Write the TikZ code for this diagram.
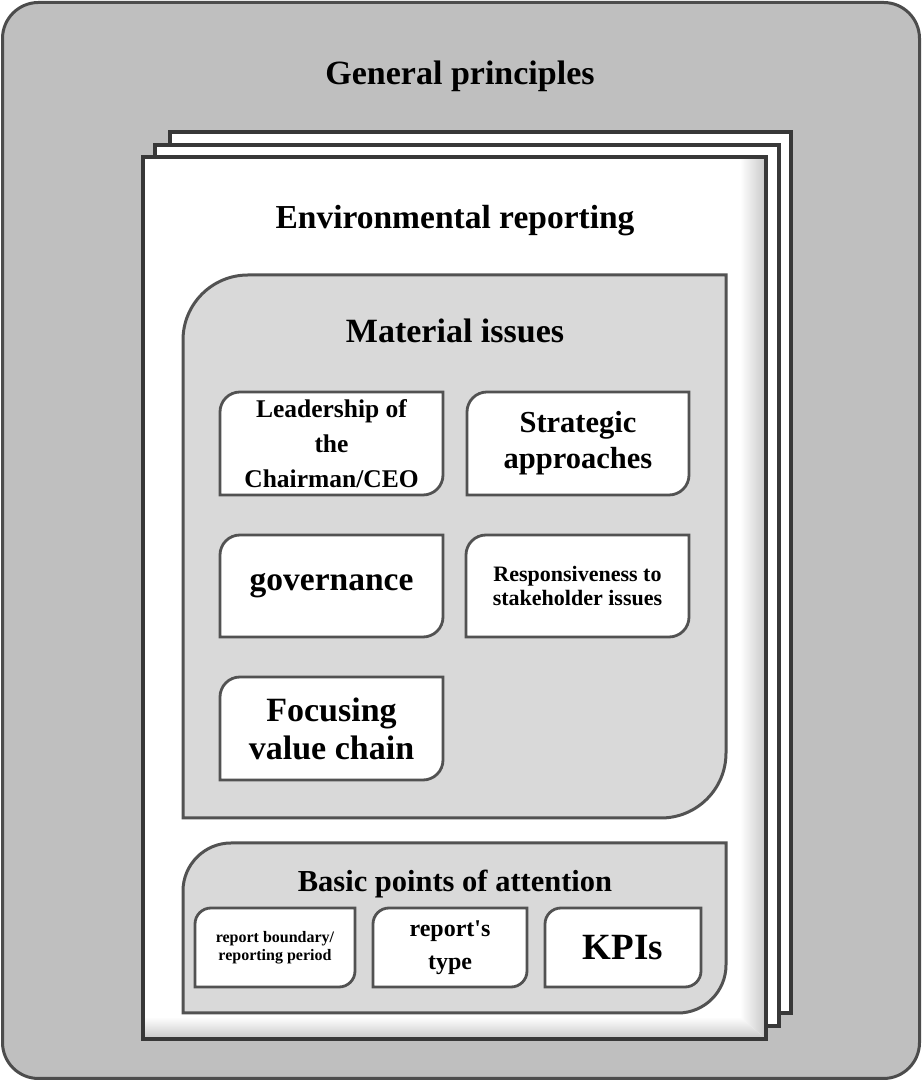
\documentclass[tikz,border=0pt]{standalone}
\usepackage{fontspec}
\setmainfont{Liberation Serif}
\newcommand\leafpath[3]{% style, node, corner radius
  \draw[#1] (#2.south west) -- ([yshift=-#3]#2.north west)
    arc[start angle=180,end angle=90,radius=#3] -- (#2.north east)
    -- ([yshift=#3]#2.south east)
    arc[start angle=0,end angle=-90,radius=#3] -- cycle;}
\newcommand\fsz[2]{\bfseries\fontsize{#1}{#2}\selectfont}
\begin{document}
\begin{tikzpicture}[x=1pt,y=1pt,
  frame/.style={draw=black!70, line width=3pt},
  sheet/.style={draw=black!78, line width=3.5pt, fill=white},
  panel/.style={draw=black!68, line width=3pt, fill=black!15},
  tile/.style={draw=black!68, line width=2.8pt, fill=white},
  holder/.style={inner sep=0pt, outer sep=0pt},
  lbl/.style={align=center, inner sep=0pt},
]
\useasboundingbox (0,0) rectangle (922,1081);

% outer frame
\draw[frame, fill=black!25, rounded corners=36pt] (2.5,2.5) rectangle (919.5,1078.5);
\node[lbl, font=\fsz{34}{38}] (general) at (460,1005) {General principles};

% stack of sheets
\draw[sheet] (170,68) rectangle (791,949);
\draw[sheet] (155,55) rectangle (779,936);
\draw[sheet] (143,42) rectangle (766,924);
% soft bevel along the right and bottom edges of the front sheet
\begin{scope}
  \clip (740,64) -- (740,924) -- (766,924) -- (766,42) -- cycle;
  \shade[left color=white, right color=black!22] (740,42) rectangle (766,924);
\end{scope}
\begin{scope}
  \clip (143,42) -- (766,42) -- (740,64) -- (143,64) -- cycle;
  \shade[top color=white, bottom color=black!22] (143,42) rectangle (766,64);
\end{scope}
\draw[sheet, fill=none] (143,42) rectangle (766,924);
\node[lbl, font=\fsz{33.5}{38}] (envrep) at (455,860) {Environmental reporting};

% material issues panel
\node[holder, minimum width=543pt, minimum height=543pt] (matbox) at (454.5,534.5) {};
\leafpath{panel}{matbox}{65pt}
\node[lbl, font=\fsz{34}{38}] (mattitle) at (455,750) {Material issues};

\node[holder, minimum width=223pt, minimum height=103pt] (lead) at (331.5,637.5) {};
\leafpath{tile}{lead}{20pt}
\node[lbl, font=\fsz{25.5}{35}] (leadtxt) at (lead) {Leadership of\\the\\Chairman/CEO};

\node[holder, minimum width=222pt, minimum height=103pt] (strat) at (578,637.5) {};
\leafpath{tile}{strat}{20pt}
\node[lbl, font=\fsz{30.5}{36}] (strattxt) at (strat) {Strategic\\approaches};

\node[holder, minimum width=223pt, minimum height=102pt] (gov) at (331.5,495) {};
\leafpath{tile}{gov}{20pt}
\node[lbl, font=\fsz{33.5}{38}] (govtxt) at (gov) {governance};

\node[holder, minimum width=223pt, minimum height=102pt] (resp) at (577.5,495) {};
\leafpath{tile}{resp}{20pt}
\node[lbl, font=\fsz{22}{24}] (resptxt) at (resp) {Responsiveness to\\stakeholder issues};

\node[holder, minimum width=223pt, minimum height=103pt] (focus) at (331.5,352.5) {};
\leafpath{tile}{focus}{20pt}
\node[lbl, font=\fsz{34}{38}] (focustxt) at (focus) {Focusing\\value chain};

% basic points panel
\node[holder, minimum width=543pt, minimum height=170pt] (basic) at (454.5,153) {};
\leafpath{panel}{basic}{48pt}
\node[lbl, font=\fsz{30.5}{34}] (basictitle) at (455,197) {Basic points of attention};

\node[holder, minimum width=160pt, minimum height=79pt] (bound) at (275,133.5) {};
\leafpath{tile}{bound}{16pt}
\node[lbl, font=\fsz{16}{18}] (boundtxt) at (bound) {report boundary/\\reporting period};

\node[holder, minimum width=154pt, minimum height=79pt] (rtype) at (450,133.5) {};
\leafpath{tile}{rtype}{16pt}
\node[lbl, font=\fsz{24}{33}] (rtypetxt) at (rtype) {report\textquotesingle s\\type};

\node[holder, minimum width=156pt, minimum height=79pt] (kpi) at (623,133.5) {};
\leafpath{tile}{kpi}{16pt}
\node[lbl, font=\fsz{37}{40}] (kpitxt) at (kpi) {KPIs};
\end{tikzpicture}
\end{document}
